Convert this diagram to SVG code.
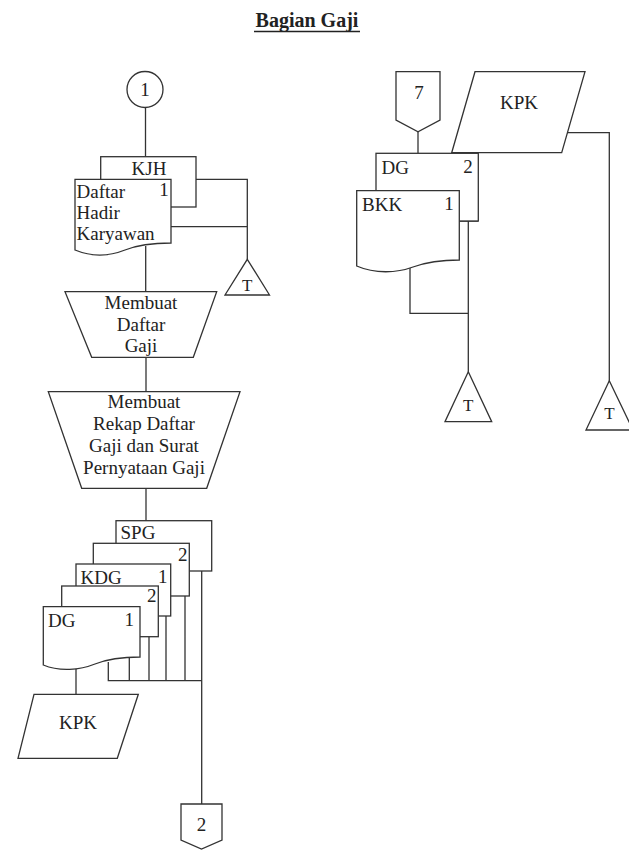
<svg xmlns="http://www.w3.org/2000/svg" width="629" height="850" viewBox="0 0 629 850">
<style>
.s{fill:#fff;stroke:#333;stroke-width:1.3}
.c{fill:none;stroke:#333;stroke-width:1.3}
text{font-family:"Liberation Serif","DejaVu Serif",serif;font-size:19px;fill:#222}
.m{text-anchor:middle}
.t{font-size:20px;font-weight:bold}
</style>
<rect width="629" height="850" fill="#fff"/>
<g id="title">
<text class="m t" x="307" y="27">Bagian Gaji</text>
<line x1="254" y1="31.5" x2="360" y2="31.5" stroke="#222" stroke-width="1.5"/>
</g>
<g id="connectors">
<path class="c" d="M145.5,107.5V156.7"/>
<path class="c" d="M196,179.3H247.3V259.3M171,226.7H247.3"/>
<path class="c" d="M145.7,246V291.7"/>
<path class="c" d="M146,357.3V391.7"/>
<path class="c" d="M146,488.3V520.7"/>
<path class="c" d="M108.3,662V680.7H201.7M129.3,658V680.7M149,636.7V680.7M166,616V680.7M185,596V680.7M201.7,571V804"/>
<path class="c" d="M76,662V694.3"/>
<path class="c" d="M418,131.7V153.3"/>
<path class="c" d="M567.5,132.7H609.3V380.7"/>
<path class="c" d="M459.3,221H478.3M468.3,221V371.7M410,268V313.3H468.3"/>
</g>
<g id="conn1">
<circle class="s" cx="145" cy="89.5" r="18"/>
<text class="m" x="145" y="96">1</text>
</g>
<g id="doc-kjh">
<rect class="s" x="100.7" y="156.7" width="95.3" height="50.3"/>
<text class="m" x="149" y="175">KJH</text>
</g>
<g id="doc-dhk">
<path class="s" d="M75,179.3H171V243C150,243 135,246 125,250C110,256 92,257 75,250Z"/>
<text x="76.5" y="198">Daftar</text>
<text x="76.5" y="219">Hadir</text>
<text x="76.5" y="240">Karyawan</text>
<text class="m" x="164" y="196">1</text>
</g>
<g id="term-t1">
<path class="s" d="M247.3,259.3L269.5,295H225Z"/>
<text class="m" x="247.3" y="291" style="font-size:17px">T</text>
</g>
<g id="proc1">
<path class="s" d="M65,291.7H216.7L193.3,357.3H91.7Z"/>
<text class="m" x="141" y="309">Membuat</text>
<text class="m" x="141" y="330.5">Daftar</text>
<text class="m" x="141" y="352">Gaji</text>
</g>
<g id="proc2">
<path class="s" d="M48.3,391.7H240L206.7,488.3H81.7Z"/>
<text class="m" x="144" y="408">Membuat</text>
<text class="m" x="144" y="430">Rekap Daftar</text>
<text class="m" x="144" y="452">Gaji dan Surat</text>
<text class="m" x="144" y="474">Pernyataan Gaji</text>
</g>
<g id="doc-spg">
<rect class="s" x="116" y="520.7" width="95.7" height="50.3"/>
<text x="120.5" y="538.5">SPG</text>
</g>
<g id="doc-spg2">
<rect class="s" x="93.3" y="543.3" width="96" height="52.7"/>
<text class="m" x="182.7" y="560.5">2</text>
</g>
<g id="doc-kdg">
<rect class="s" x="76" y="564" width="94.7" height="52"/>
<text x="80.5" y="583.5">KDG</text>
<text class="m" x="162.7" y="583">1</text>
</g>
<g id="doc-kdg2">
<rect class="s" x="61.7" y="586" width="96.6" height="50.7"/>
<text class="m" x="151.7" y="602">2</text>
</g>
<g id="doc-dg">
<path class="s" d="M43.3,606.7H140V657C120,657 105,660 95,664C80,670 60,672 43.3,665Z"/>
<text x="48" y="627">DG</text>
<text class="m" x="129.3" y="626">1</text>
</g>
<g id="io-kpk1">
<path class="s" d="M34,694.3H138.3L117.3,758.3H18Z"/>
<text class="m" x="78" y="729">KPK</text>
</g>
<g id="off2">
<path class="s" d="M181,804H222V840L201.5,849L181,840Z"/>
<text class="m" x="201.5" y="831">2</text>
</g>
<g id="off7">
<path class="s" d="M396,71.7H440V120L418,131.7L396,120Z"/>
<text class="m" x="419" y="99">7</text>
</g>
<g id="io-kpk2">
<path class="s" d="M475,71.7H585L561.7,152.7H451.7Z"/>
<text class="m" x="519" y="109">KPK</text>
</g>
<g id="doc-dg2">
<rect class="s" x="376" y="153.3" width="102.3" height="67.7"/>
<text x="381.5" y="173.5">DG</text>
<text class="m" x="468" y="173">2</text>
</g>
<g id="doc-bkk">
<path class="s" d="M356.7,190.7H459.3V260C439,260 424,263 413,267C397,273 375,274 356.7,266Z"/>
<text x="362" y="210.5">BKK</text>
<text class="m" x="449" y="210">1</text>
</g>
<g id="term-t2">
<path class="s" d="M468.3,371.7L491.7,421.7H445Z"/>
<text class="m" x="468.3" y="411" style="font-size:17px">T</text>
</g>
<g id="term-t3">
<path class="s" d="M609.3,380.7L633,430H586Z"/>
<text class="m" x="609.5" y="419" style="font-size:17px">T</text>
</g>
</svg>
